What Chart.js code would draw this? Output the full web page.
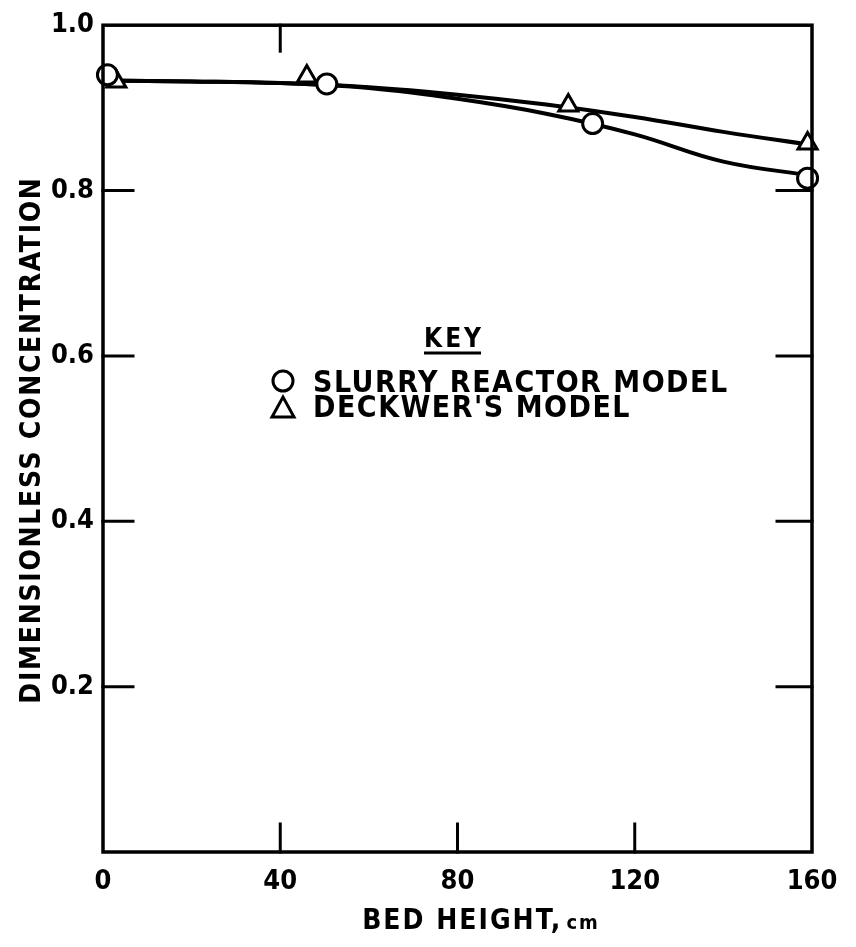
<!DOCTYPE html>
<html>
<head>
<meta charset="utf-8">
<script src="https://cdn.jsdelivr.net/npm/chart.js@4.4.1/dist/chart.umd.min.js"></script>
<style>
html,body{margin:0;padding:0;background:#fff;}
#wrap{width:856px;height:947px;}
</style>
</head>
<body>
<div id="wrap"><canvas id="c" width="856" height="947"></canvas></div>
<script>
// ---- data ----
const xTicks = [0, 40, 80, 120, 160];
const yTicks = [0.2, 0.4, 0.6, 0.8, 1.0];
const slurryPtsX = [1, 50.5, 110.5, 159];
const slurryPtsY = [0.940, 0.929, 0.881, 0.815];
const deckwerPtsX = [3, 46, 105, 159];
const deckwerPtsY = [0.932, 0.938, 0.903, 0.857];
const curveX = [0, 20, 40, 60, 80, 100, 120, 140, 160];
const slurryCurveY = [0.933, 0.932, 0.930, 0.924, 0.911, 0.893, 0.868, 0.835, 0.818];
const deckwerCurveY = [0.933, 0.932, 0.930, 0.925, 0.916, 0.904, 0.889, 0.871, 0.855];
const keyTitle = "KEY";
const keyLabels = ["SLURRY REACTOR MODEL", "DECKWER'S MODEL"];
const xTitle = "BED HEIGHT,";
const xUnit = "cm";
const yTitle = "DIMENSIONLESS CONCENTRATION";

const zip = (xs, ys) => xs.map((x, i) => ({x: x, y: ys[i]}));
const INK = '#000';
const FONT = '"DejaVu Sans Condensed","DejaVu Sans",sans-serif';

const framePlugin = {
  id: 'frame',
  afterDatasetsDraw(chart) {
    const {ctx, chartArea: a, scales: {x, y}} = chart;
    ctx.save();
    ctx.strokeStyle = INK;
    ctx.lineWidth = 3.5;
    ctx.lineCap = 'square';
    ctx.strokeRect(a.left, a.top, a.right - a.left, a.bottom - a.top);
    ctx.lineWidth = 3;
    [40, 80, 120].forEach(v => {
      const px = x.getPixelForValue(v);
      ctx.beginPath(); ctx.moveTo(px, a.bottom); ctx.lineTo(px, a.bottom - 28); ctx.stroke();
    });
    [40].forEach(v => {
      const px = x.getPixelForValue(v);
      ctx.beginPath(); ctx.moveTo(px, a.top); ctx.lineTo(px, a.top + 26); ctx.stroke();
    });
    [0.2, 0.4, 0.6, 0.8].forEach(v => {
      const py = y.getPixelForValue(v);
      ctx.beginPath(); ctx.moveTo(a.left, py); ctx.lineTo(a.left + 30, py); ctx.stroke();
      ctx.beginPath(); ctx.moveTo(a.right, py); ctx.lineTo(a.right - 35, py); ctx.stroke();
    });
    ctx.restore();
  },
  afterDraw(chart) {
    const {ctx, scales: {x, y}} = chart;
    ctx.save();
    ctx.fillStyle = INK;
    ctx.strokeStyle = INK;
    ctx.textBaseline = 'alphabetic';
    ctx.textAlign = 'left';
    // key
    ctx.font = 'bold 26px ' + FONT;
    ctx.letterSpacing = '3px';
    const keyW = ctx.measureText(keyTitle).width;
    const keyX = 424, keyY = 347;
    ctx.fillText(keyTitle, keyX, keyY);
    ctx.lineWidth = 3;
    ctx.beginPath(); ctx.moveTo(keyX, keyY + 6); ctx.lineTo(keyX + keyW - 3, keyY + 6); ctx.stroke();
    ctx.font = 'bold 30px ' + FONT;
    ctx.letterSpacing = '1.5px';
    const l1y = 392, l2y = 417;
    ctx.fillText(keyLabels[0], 313, l1y);
    ctx.fillText(keyLabels[1], 313, l2y);
    ctx.lineWidth = 3;
    ctx.beginPath(); ctx.arc(283, l1y - 11, 10, 0, Math.PI * 2); ctx.stroke();
    ctx.beginPath(); ctx.moveTo(272, l2y); ctx.lineTo(294, l2y); ctx.lineTo(283, l2y - 20); ctx.closePath(); ctx.stroke();
    // axis titles
    ctx.letterSpacing = '2px';
    ctx.font = 'bold 28px ' + FONT;
    const tW = ctx.measureText(xTitle).width;
    ctx.font = 'bold 20px ' + FONT;
    const uW = ctx.measureText(xUnit).width;
    const tx = 481 - (tW + uW + 4) / 2;
    ctx.font = 'bold 28px ' + FONT;
    ctx.fillText(xTitle, tx, 929);
    ctx.font = 'bold 20px ' + FONT;
    ctx.fillText(xUnit, tx + tW + 4, 929);
    ctx.translate(40, 440);
    ctx.rotate(-Math.PI / 2);
    ctx.textAlign = 'center';
    ctx.font = 'bold 28px ' + FONT;
    ctx.letterSpacing = '1.7px';
    ctx.fillText(yTitle, 0, 0);
    ctx.restore();
  }
};

new Chart(document.getElementById('c'), {
  type: 'scatter',
  data: {
    datasets: [
      { label: 'slurry curve', type: 'line', data: zip(curveX, slurryCurveY), borderColor: INK, borderWidth: 4, pointRadius: 0, tension: 0.4, fill: false, order: 2 },
      { label: 'deckwer curve', type: 'line', data: zip(curveX, deckwerCurveY), borderColor: INK, borderWidth: 4, pointRadius: 0, tension: 0.4, fill: false, order: 2 },
      { label: keyLabels[0], data: zip(slurryPtsX, slurryPtsY), pointStyle: 'circle', pointRadius: 10, borderColor: INK, backgroundColor: '#fff', borderWidth: 3, order: 1, clip: false },
      { label: keyLabels[1], data: zip(deckwerPtsX, deckwerPtsY), pointStyle: 'triangle', pointRadius: 11, borderColor: INK, backgroundColor: '#fff', borderWidth: 3, order: 1, clip: false }
    ]
  },
  options: {
    responsive: false,
    animation: false,
    devicePixelRatio: 1,
    layout: { padding: { top: 23, right: 44, left: 0, bottom: 0 } },
    plugins: { legend: { display: false }, tooltip: { enabled: false } },
    scales: {
      x: {
        type: 'linear', min: 0, max: 160,
        afterBuildTicks: s => { s.ticks = xTicks.map(v => ({value: v})); },
        afterFit: s => { s.height = 95; },
        grid: { display: false, drawTicks: false },
        border: { display: false },
        ticks: { color: INK, padding: 14, font: { family: FONT, size: 27, weight: 'bold' } }
      },
      y: {
        type: 'linear', min: 0, max: 1.0,
        afterBuildTicks: s => { s.ticks = yTicks.map(v => ({value: v})); },
        afterFit: s => { s.width = 103; },
        grid: { display: false, drawTicks: false },
        border: { display: false },
        ticks: { color: INK, padding: 9, font: { family: FONT, size: 27, weight: 'bold' }, callback: v => v.toFixed(1) }
      }
    }
  },
  plugins: [framePlugin]
});
</script>
</body>
</html>
